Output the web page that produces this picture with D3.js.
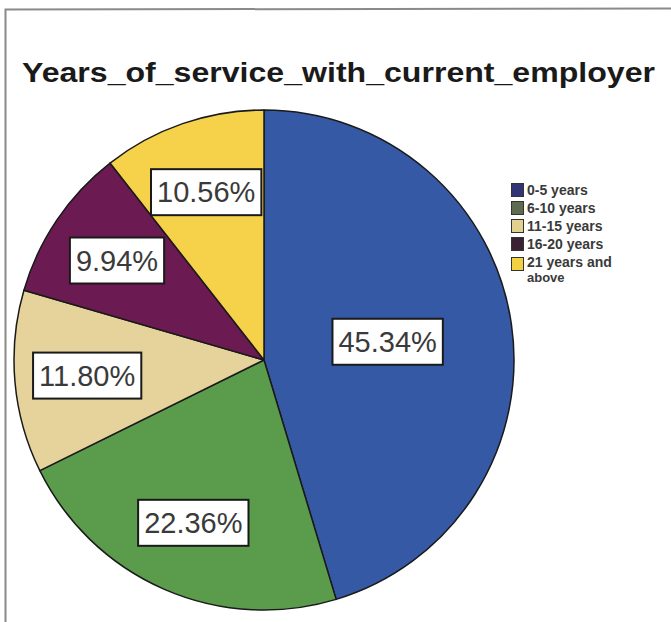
<!DOCTYPE html>
<html>
<head>
<meta charset="utf-8">
<script src="https://cdn.jsdelivr.net/npm/d3@7"></script>
<style>
  html, body { margin: 0; padding: 0; background: #ffffff; }
  svg { display: block; }
</style>
</head>
<body>
<svg id="chart" width="671" height="622"></svg>
<script>
// Share of respondents by years of service with the current employer
const categories = ["0-5 years", "6-10 years", "11-15 years", "16-20 years", "21 years and above"];
const percents = [45.34, 22.36, 11.80, 9.94, 10.56];
const sliceColors = ["#3659a6", "#5b9b4c", "#e5d39b", "#6c1a52", "#f6d24b"];
const legendColors = ["#2f3575", "#5f6b4f", "#e2d08e", "#3b2232", "#f2d143"];
const title = "Years_of_service_with_current_employer";

const svg = d3.select("#chart");
const W = 671, H = 622;

// panel frame
svg.append("rect").attr("x", 0).attr("y", 0).attr("width", W).attr("height", H).attr("fill", "#fff");
svg.append("path")
  .attr("d", "M5.5,622 L5.5,9.5 L671,8.5")
  .attr("fill", "none").attr("stroke", "#8a8a8a").attr("stroke-width", 2);

// title
svg.append("text")
  .attr("x", 22).attr("y", 82)
  .attr("font-family", "Liberation Sans, Arial, sans-serif")
  .attr("font-weight", "bold")
  .attr("font-size", 28)
  .attr("fill", "#1a1a1a")
  .attr("textLength", 633)
  .attr("lengthAdjust", "spacingAndGlyphs")
  .text(title);

// pie
const cx = 264, cy = 360, R = 250;
const data = categories.map((c, i) => ({ name: c, value: percents[i], color: sliceColors[i] }));
const pie = d3.pie().sort(null).value(d => d.value);
const arcs = pie(data);
const arc = d3.arc().innerRadius(0).outerRadius(R);

const g = svg.append("g").attr("transform", `translate(${cx},${cy})`);
g.selectAll("path.slice")
  .data(arcs)
  .enter().append("path")
  .attr("class", "slice")
  .attr("d", arc)
  .attr("fill", d => d.data.color)
  .attr("stroke", "#1a1a1a")
  .attr("stroke-width", 1.5)
  .attr("stroke-linejoin", "round");

// value labels in boxed callouts; the dominant slice keeps its label nearer the centre
const labelArcNear = d3.arc().innerRadius(R * 0.5).outerRadius(R * 0.5);
const labelArcFar = d3.arc().innerRadius(R * 0.71).outerRadius(R * 0.71);
const fmt = d => d.toFixed(2) + "%";

const labels = g.selectAll("g.lbl")
  .data(arcs)
  .enter().append("g")
  .attr("class", "lbl")
  .attr("transform", d => {
    const a = d.data.value > 40 ? labelArcNear : labelArcFar;
    const [x, y] = a.centroid(d);
    return `translate(${x},${y})`;
  });

labels.each(function(d) {
  const sel = d3.select(this);
  const t = sel.append("text")
    .attr("text-anchor", "middle")
    .attr("dominant-baseline", "central")
    .attr("font-family", "Liberation Sans, Arial, sans-serif")
    .attr("font-size", 29)
    .attr("fill", "#3a3a3a")
    .text(fmt(d.data.value));
  const bb = t.node().getBBox();
  const padX = 6, padY = 8;
  sel.insert("rect", "text")
    .attr("x", bb.x - padX).attr("y", bb.y - padY + 1)
    .attr("width", bb.width + padX * 2).attr("height", bb.height + padY * 2 - 2)
    .attr("fill", "#ffffff")
    .attr("stroke", "#1a1a1a")
    .attr("stroke-width", 2);
});

// legend
const lg = svg.append("g").attr("transform", "translate(511,183)");
const rowH = 18;
const legendRows = lg.selectAll("g.row")
  .data(categories)
  .enter().append("g")
  .attr("class", "row")
  .attr("transform", (d, i) => `translate(0,${i * rowH})`);

legendRows.append("rect")
  .attr("x", 0.5).attr("y", (d, i) => i === 4 ? 2.5 : 0.5)
  .attr("width", 12).attr("height", 13)
  .attr("fill", (d, i) => legendColors[i])
  .attr("stroke", "#333")
  .attr("stroke-width", 1);

// long entries wrap onto a second line
const wrapLegend = name => name === "21 years and above" ? ["21 years and", "above"] : [name];
legendRows.each(function(d) {
  const row = d3.select(this);
  wrapLegend(d).forEach((line, k) => {
    row.append("text")
      .attr("x", 16).attr("y", 12 + k * 15)
      .attr("font-family", "Liberation Sans, Arial, sans-serif")
      .attr("font-weight", "bold")
      .attr("font-size", k === 0 ? 14 : 13)
      .attr("fill", "#3a3a3a")
      .text(line);
  });
});
</script>
</body>
</html>
